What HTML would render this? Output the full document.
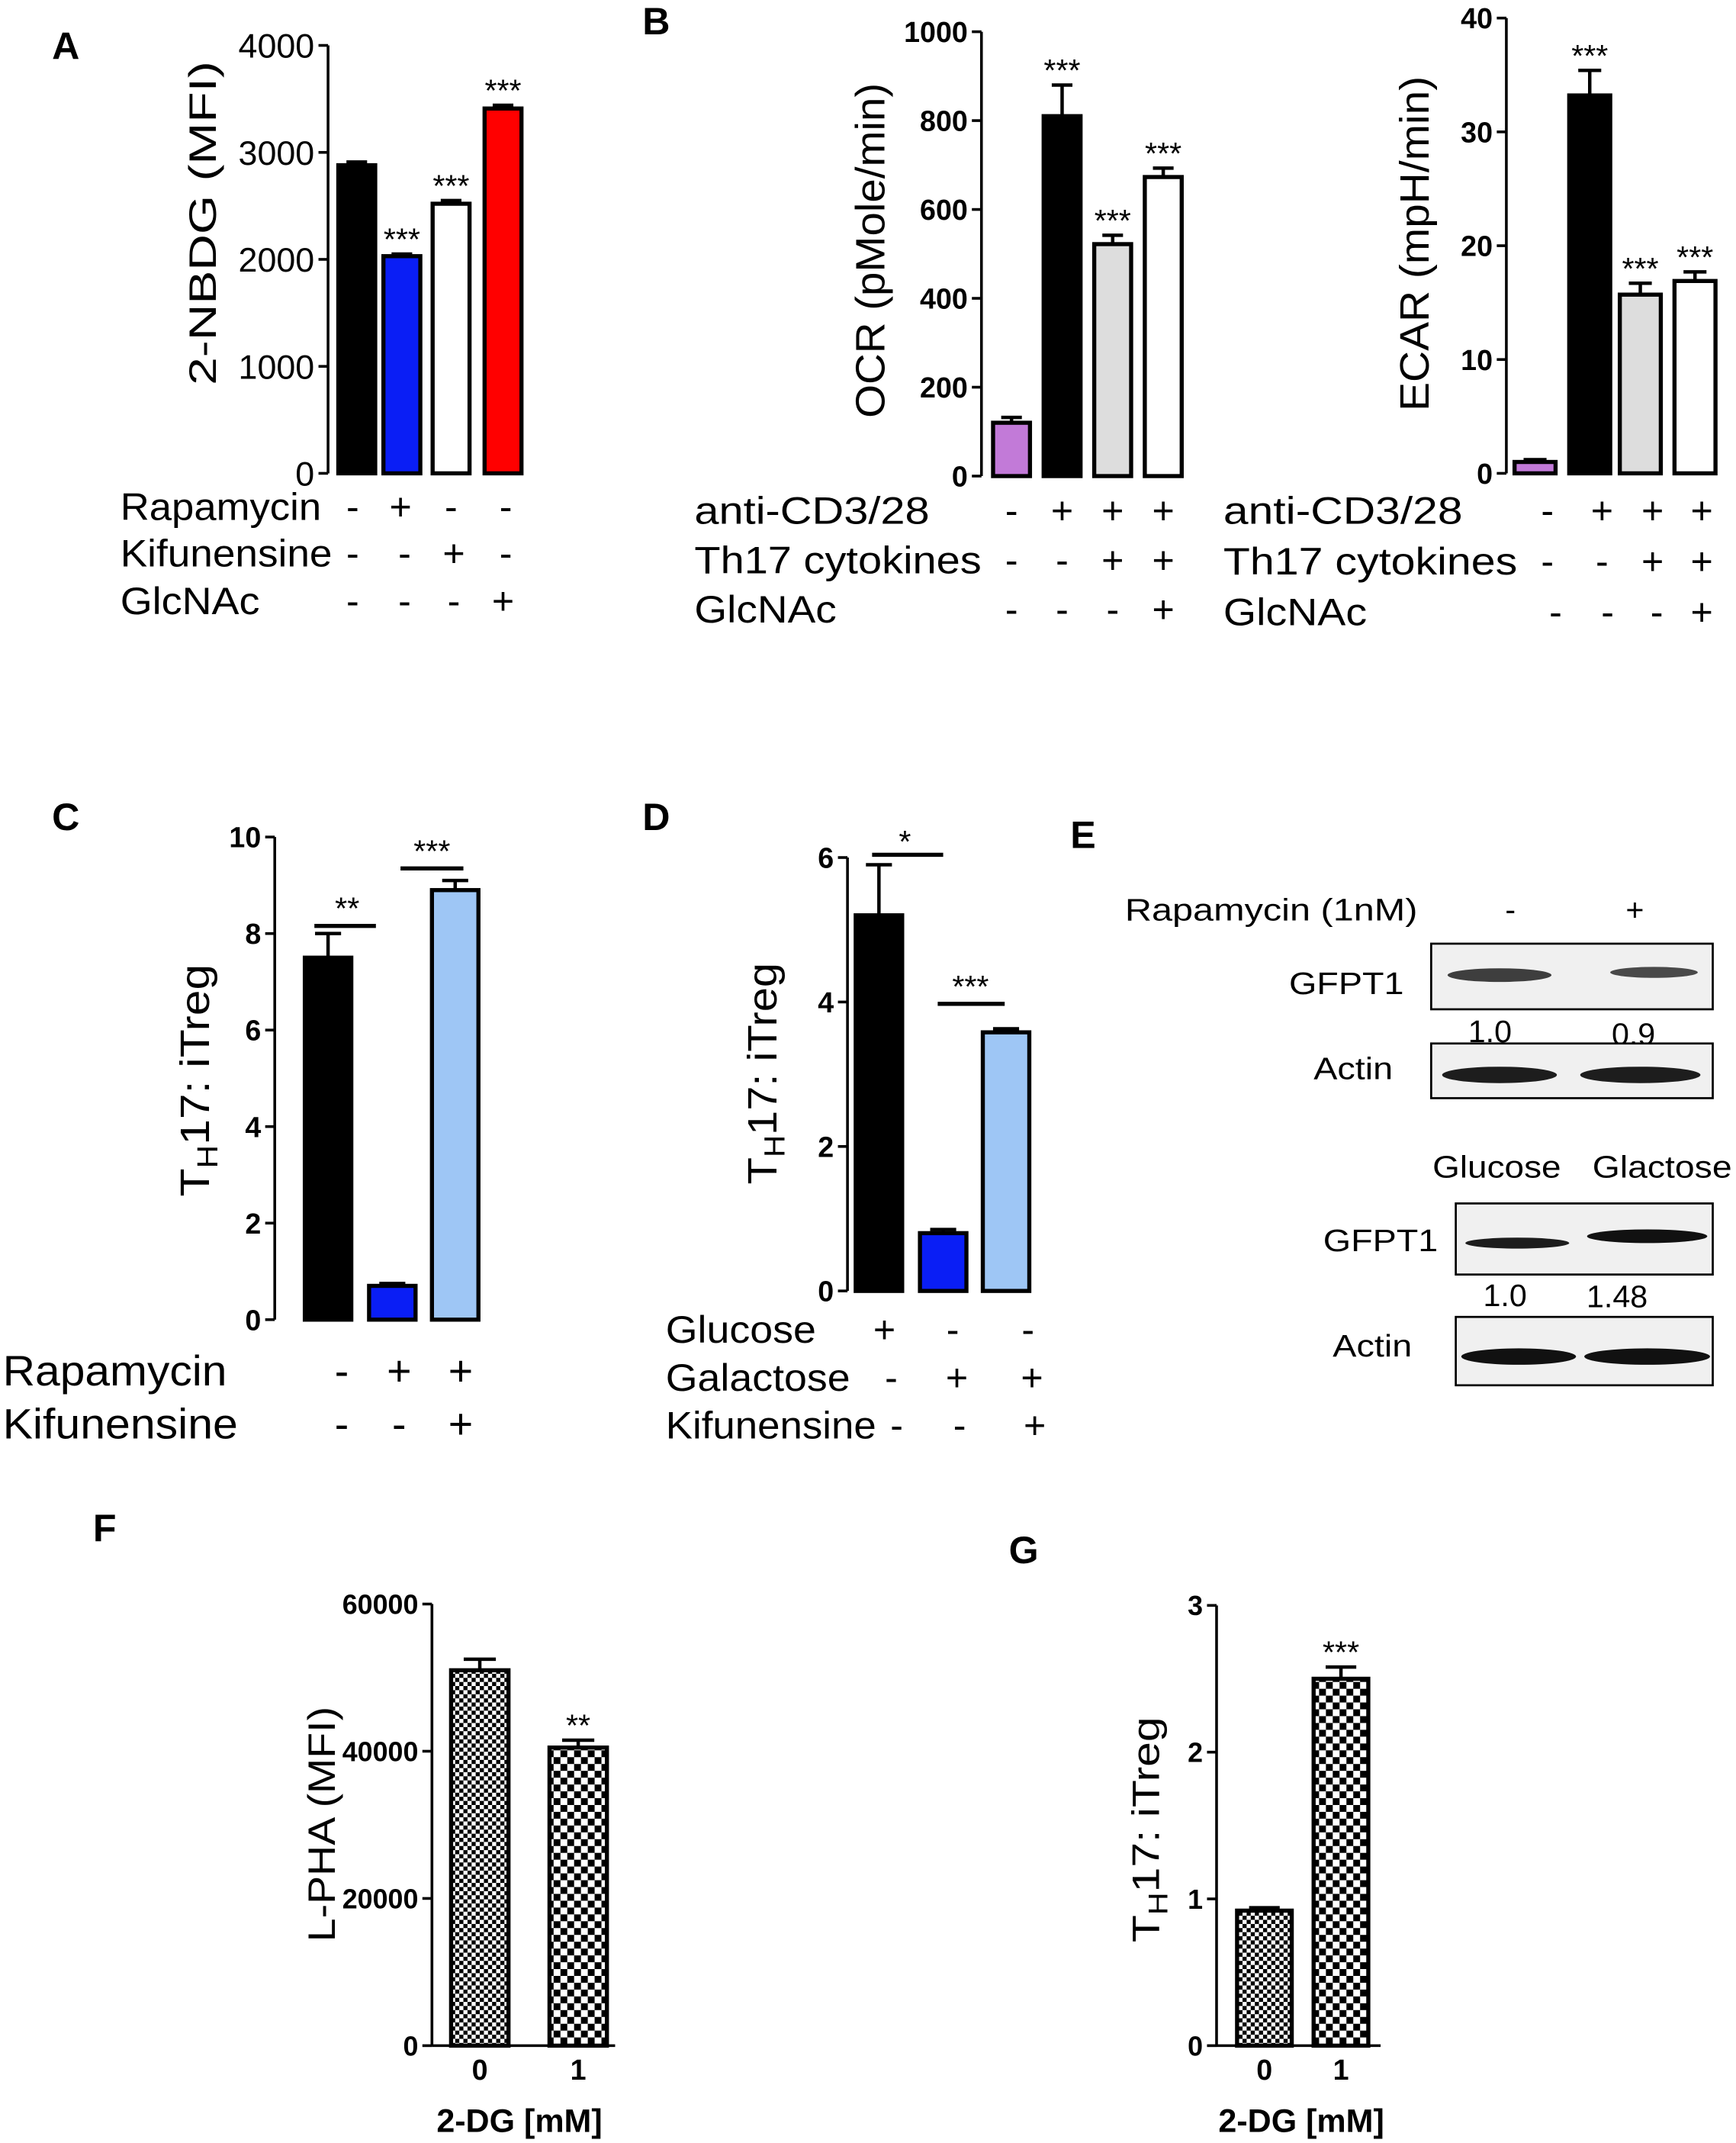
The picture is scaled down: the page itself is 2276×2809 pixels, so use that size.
<!DOCTYPE html>
<html><head><meta charset="utf-8"><style>
html,body{margin:0;padding:0;background:#fff}
svg{display:block}
text{font-family:"Liberation Sans",Arial,sans-serif;fill:#000}
</style></head><body>
<svg id="fig" width="2276" height="2809" viewBox="0 0 1270 1567" xmlns="http://www.w3.org/2000/svg">
<defs>
<pattern id="chk1" width="6" height="6" patternUnits="userSpaceOnUse"><rect width="6" height="6" fill="#fff"/><rect width="3" height="3" fill="#000"/><rect x="3" y="3" width="3" height="3" fill="#000"/></pattern>
<pattern id="chk2" width="10" height="10" patternUnits="userSpaceOnUse"><rect width="10" height="10" fill="#fff"/><rect width="5" height="5" fill="#000"/><rect x="5" y="5" width="5" height="5" fill="#000"/></pattern>
</defs>
<g id="root"></g>
</svg>
<script>
// ---- data ----
const aValues=[2880,2030,2520,3410];
const aErrors=[30,20,30,30];
const aTicks=[0,1000,2000,3000,4000];
const aStars=["","***","***","***"];
const ocrValues=[120,810,522,673];
const ocrErrors=[12,70,20,20];
const ocrTicks=[0,200,400,600,800,1000];
const ocrStars=["","***","***","***"];
const ecarValues=[1,33.2,15.7,16.9];
const ecarErrors=[0.2,2.2,1,0.8];
const ecarTicks=[0,10,20,30,40];
const ecarStars=["","***","***","***"];
const cValues=[7.5,0.7,8.9];
const cErrors=[0.5,0.05,0.2];
const cTicks=[0,2,4,6,8,10];
const dValues=[5.2,0.8,3.58];
const dErrors=[0.7,0.05,0.05];
const dTicks=[0,2,4,6];
const fValues=[51000,40500];
const fErrors=[1500,1000];
const fTicks=[0,20000,40000,60000];
const fCats=["0","1"];
const gValues=[0.92,2.5];
const gErrors=[0.02,0.08];
const gTicks=[0,1,2,3];
const gCats=["0","1"];

const NS="http://www.w3.org/2000/svg";
const root=document.getElementById('root');
function el(tag,attrs,txt,parent){const e=document.createElementNS(NS,tag);for(const k in attrs)e.setAttribute(k,attrs[k]);if(txt!==undefined)e.textContent=txt;(parent||root).appendChild(e);return e;}

function panel(p){
  const g=el('g',{});
  
  
  const y=v=>p.y0-(v-p.min)/(p.max-p.min)*(p.y0-p.y1);
  const ax=el('line',{x1:p.ax,y1:p.y1,x2:p.ax,y2:p.y0,stroke:'#000','stroke-width':2},undefined,g);
  
  
  p.ticks.forEach(t=>{
    const ty=y(t);
    el('line',{x1:p.ax-7,y1:ty,x2:p.ax,y2:ty,stroke:'#000','stroke-width':2},undefined,g);
    const tl=el('text',{x:p.ax-10,y:ty+p.tfs*0.36,'text-anchor':'end','font-size':p.tfs,'font-weight':p.tbold?'bold':'normal'},String(t),g);
    
    
  });
  if(p.xaxis){el('line',{x1:p.ax,y1:p.y0,x2:p.xaxis,y2:p.y0,stroke:'#000','stroke-width':2},undefined,g);}
  p.values.forEach((v,i)=>{
    const cx=p.centers[i],w=p.bw,top=y(v),et=y(v+p.errors[i]);
    el('line',{x1:cx,y1:top,x2:cx,y2:et,stroke:'#000','stroke-width':2.5},undefined,g);
    el('line',{x1:cx-w*0.28,y1:et,x2:cx+w*0.28,y2:et,stroke:'#000','stroke-width':2.5},undefined,g);
    const b=el('rect',{x:cx-w/2,y:top,width:w,height:p.y0-top,fill:p.fills[i],stroke:'#000','stroke-width':3},undefined,g);
    
    
    if(p.stars&&p.stars[i]){
      const s=el('text',{x:cx,y:et-3,'text-anchor':'middle','font-size':23},p.stars[i],g);
      
      
    }
  });
  if(p.cats){p.cats.forEach((c,i)=>{const t=el('text',{x:p.centers[i],y:p.y0+25,'text-anchor':'middle','font-size':21,'font-weight':'bold'},c,g);
    
    });}
  const my=p.ymid||(p.y0+p.y1)/2;
  const yl=el('text',{x:p.ylx,y:my,'text-anchor':'middle','font-size':p.yfs,textLength:p.ylen,lengthAdjust:'spacingAndGlyphs',transform:`rotate(-90 ${p.ylx} ${my})`},undefined,g);
  
  
  if(p.sub){yl.innerHTML='T<tspan font-size="'+(p.yfs*0.7)+'" dy="6">H</tspan><tspan dy="-6">17: iTreg</tspan>';}else yl.textContent=p.ylabel;
  return {g,y};
}
function rows(list,fs){
  list.forEach(r=>{
    const t=el('text',{x:r[0],y:r[1],'font-size':fs,textLength:r[5],lengthAdjust:'spacingAndGlyphs'},r[2]);
    
    
    r[3].forEach((m,i)=>{const mm=el('text',{x:r[4][i],y:r[1],'font-size':fs,'text-anchor':'middle'},m);
      
      });
  });
}
function letter(x,y,s){const t=el('text',{x:x,y:y,'font-size':28,'font-weight':'bold'},s);
  
  }

letter(38,43,'A');letter(470,25,'B');letter(38,607,'C');letter(470,607,'D');letter(783,620,'E');letter(68,1127,'F');letter(738,1143,'G');

// A
panel({name:'panel-a-chart',ax:240,y0:346,y1:33,min:0,max:4000,ticks:aTicks,tfs:25,tbold:false,values:aValues,errors:aErrors,centers:[261,294,330,368],bw:27,fills:['#000','#0a1ef5','#fff','#ff0000'],stars:aStars,ylx:158,yfs:28,ylen:237,ymid:163,ylabel:'2-NBDG (MFI)'});
rows([[88,380,'Rapamycin',['-','+','-','-'],[258,293,330,370],147],[88,414,'Kifunensine',['-','-','+','-'],[258,296,332,370],155],[88,449,'GlcNAc',['-','-','-','+'],[258,296,332,368],102]],28);
// B OCR
panel({name:'panel-b-ocr-chart',ax:718,y0:348,y1:23,min:0,max:1000,ticks:ocrTicks,tfs:21,tbold:true,values:ocrValues,errors:ocrErrors,centers:[740,777,814,851],bw:27,fills:['#c27ad8','#000','#ddd','#fff'],stars:ocrStars,ylx:647,yfs:30,ylen:245,ymid:183,ylabel:'OCR (pMole/min)'});
rows([[508,383,'anti-CD3/28',['-','+','+','+'],[740,777,814,851],172],[508,419,'Th17 cytokines',['-','-','+','+'],[740,777,814,851],210],[508,455,'GlcNAc',['-','-','-','+'],[740,777,814,851],104]],28);
// B ECAR
panel({name:'panel-b-ecar-chart',ax:1102,y0:346,y1:13,min:0,max:40,ticks:ecarTicks,tfs:21,tbold:true,values:ecarValues,errors:ecarErrors,centers:[1123,1163,1200,1240],bw:30,fills:['#c27ad8','#000','#ddd','#fff'],stars:ecarStars,ylx:1045,yfs:30,ylen:245,ymid:178,ylabel:'ECAR (mpH/min)'});
rows([[895,383,'anti-CD3/28',['-','+','+','+'],[1132,1172,1209,1245],175],[895,420,'Th17 cytokines',['-','-','+','+'],[1132,1172,1209,1245],215],[895,457,'GlcNAc',['-','-','-','+'],[1138,1176,1212,1245],105]],28);
// C
panel({name:'panel-c-chart',ax:201,y0:965,y1:612,min:0,max:10,ticks:cTicks,tfs:21,tbold:true,values:cValues,errors:cErrors,centers:[240,287,333],bw:34,fills:['#000','#0a1ef5','#9ec6f5'],ylx:153,yfs:30,ylen:170,ymid:790,sub:true});
el('line',{x1:230,y1:677,x2:275,y2:677,stroke:'#000','stroke-width':3});el('text',{x:254,y:672,'text-anchor':'middle','font-size':23},'**');
el('line',{x1:293,y1:635,x2:339,y2:635,stroke:'#000','stroke-width':3});el('text',{x:316,y:630,'text-anchor':'middle','font-size':23},'***');
rows([[2,1013,'Rapamycin',['-','+','+'],[250,292,337],164],[2,1052,'Kifunensine',['-','-','+'],[250,292,337],172]],31);
// D
panel({name:'panel-d-chart',ax:620,y0:944,y1:627,min:0,max:6,ticks:dTicks,tfs:21,tbold:true,values:dValues,errors:dErrors,centers:[643,690,736],bw:34,fills:['#000','#0a1ef5','#9ec6f5'],ylx:568,yfs:30,ylen:162,ymid:785,sub:true});
el('line',{x1:638,y1:625,x2:690,y2:625,stroke:'#000','stroke-width':3});el('text',{x:662,y:623,'text-anchor':'middle','font-size':23},'*');
el('line',{x1:686,y1:734,x2:735,y2:734,stroke:'#000','stroke-width':3});el('text',{x:710,y:729,'text-anchor':'middle','font-size':23},'***');
rows([[487,982,'Glucose',['+','-','-'],[647,697,752],110],[487,1017,'Galactose',['-','+','+'],[652,700,755],135],[487,1052,'Kifunensine',['-','-','+'],[656,702,757],154]],28);
// E blots
function txt(x,y,s,fs,anchor,name,len){const t=el('text',{x:x,y:y,'font-size':fs,'text-anchor':anchor||'start'},s);if(len){t.setAttribute('textLength',len);t.setAttribute('lengthAdjust','spacingAndGlyphs');}}
txt(823,673,'Rapamycin  (1nM)',23,'start','blot-treatment-label',214);txt(1105,673,'-',23,'middle','blot-mark');txt(1196,673,'+',23,'middle','blot-mark');
function blot(x,y,w,h,bands,name){const g=el('g',{});
  el('rect',{x:x,y:y,width:w,height:h,fill:'#f0f0f0',stroke:'#000','stroke-width':1.5},undefined,g);
  bands.forEach(b=>el('ellipse',{cx:b[0],cy:b[1],rx:b[2],ry:b[3],fill:'#111',opacity:b[4]},undefined,g));}
blot(1047,690,206,48,[[1097,713,38,5,0.8],[1210,711,32,4,0.75]],'gfpt1-blot-rapamycin');
txt(943,727,'GFPT1',23,'start','blot-label',84);txt(1090,762,'1.0',23,'middle','band-quant');txt(1195,764,'0.9',23,'middle','band-quant');
blot(1047,763,206,40,[[1097,786,42,6,0.95],[1200,786,44,6,0.95]],'actin-blot-rapamycin');
txt(961,789,'Actin',23,'start','blot-label',58);
txt(1048,861,'Glucose',23,'start','blot-condition',94);txt(1165,861,'Glactose',23,'start','blot-condition',102);
blot(1065,880,188,52,[[1110,909,38,4,0.95],[1205,904,44,5,1]],'gfpt1-blot-glucose');
txt(968,915,'GFPT1',23,'start','blot-label',84);txt(1101,955,'1.0',23,'middle','band-quant');txt(1183,956,'1.48',23,'middle','band-quant');
blot(1065,963,188,50,[[1111,992,42,6,1],[1205,992,46,6,1]],'actin-blot-glucose');
txt(975,992,'Actin',23,'start','blot-label',58);
// F
panel({name:'panel-f-chart',ax:316,y0:1496,y1:1173,min:0,max:60000,ticks:fTicks,tfs:20,tbold:true,values:fValues,errors:fErrors,centers:[351,423],bw:42,fills:['url(#chk1)','url(#chk2)'],stars:['','**'],cats:fCats,xaxis:450,ylx:245,yfs:28,ylen:172,ymid:1334,ylabel:'L-PHA (MFI)'});
txt(380,1559,'2-DG [mM]',24,'middle','x-axis-title');root.lastChild.setAttribute('font-weight','bold');
// G
panel({name:'panel-g-chart',ax:890,y0:1496,y1:1174,min:0,max:3,ticks:gTicks,tfs:20,tbold:true,values:gValues,errors:gErrors,centers:[925,981],bw:40,fills:['url(#chk1)','url(#chk2)'],stars:['','***'],cats:gCats,xaxis:1010,ylx:848,yfs:28,ylen:165,ymid:1338,sub:true});
txt(952,1559,'2-DG [mM]',24,'middle','x-axis-title');root.lastChild.setAttribute('font-weight','bold');
</script>
</body></html>
